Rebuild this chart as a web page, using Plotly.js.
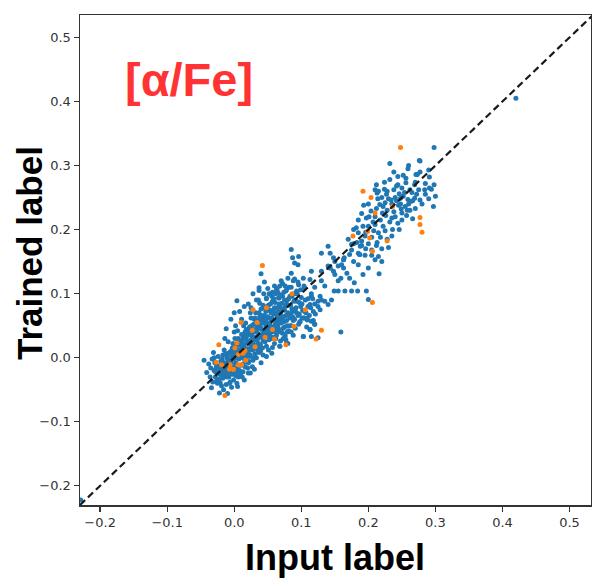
<!DOCTYPE html>
<html>
<head>
<meta charset="utf-8">
<script src="https://cdn.plot.ly/plotly-3.0.1.min.js"></script>
<style>html,body{margin:0;padding:0;background:#fff;}#chart{width:592px;height:586px;}</style>
</head>
<body>
<div id="chart"></div>
<script>
// Main (low-abundance) cluster, blue
const coreX = [
-0.045,-0.041,-0.034,-0.031,-0.030,-0.028,-0.026,-0.025,-0.024,-0.022,
-0.021,-0.020,-0.018,-0.017,-0.016,-0.015,-0.014,-0.013,-0.012,-0.011,
-0.010,-0.009,-0.008,-0.007,-0.006,-0.005,-0.004,-0.003,-0.002,-0.001,
0.000,0.000,0.001,0.002,0.003,0.004,0.005,0.005,0.006,0.007,
0.008,0.009,0.010,0.011,0.012,0.013,0.014,0.015,0.016,0.017,
0.018,0.019,0.020,0.021,0.022,0.023,0.024,0.025,0.026,0.027,
0.028,0.029,0.030,0.031,0.032,0.033,0.034,0.035,0.036,0.037,
0.038,0.039,0.040,0.041,0.042,0.043,0.044,0.045,0.046,0.047,
0.048,0.049,0.050,0.051,0.052,0.053,0.054,0.055,0.056,0.057,
0.058,0.059,0.060,0.061,0.062,0.063,0.064,0.065,0.066,0.067,
0.068,0.069,0.070,0.071,0.072,0.073,0.074,0.075,0.076,0.077,
0.078,0.079,0.080,0.081,0.082,0.083,0.084,0.085,0.086,0.087,
0.088,0.089,0.090,0.092,0.094,0.095,0.097,0.098,0.100,0.102,
0.104,0.106,0.108,0.110,0.112,0.115,0.118,0.120,0.103,0.115,
-0.038,-0.036,-0.033,-0.032,-0.029,-0.027,-0.023,-0.019,-0.017,-0.015,
-0.012,-0.010,-0.008,-0.006,-0.004,-0.002,0.001,0.003,0.004,0.006,
0.008,0.009,0.011,0.012,0.014,0.015,0.016,0.018,0.019,0.020,
0.022,0.023,0.024,0.026,0.027,0.028,0.030,0.031,0.032,0.034,
0.035,0.036,0.038,0.039,0.040,0.042,0.043,0.044,0.046,0.047,
0.048,0.049,0.051,0.052,0.053,0.055,0.056,0.057,0.058,0.060,
0.061,0.062,0.064,0.065,0.066,0.068,0.069,0.070,0.072,0.073,
0.075,0.076,0.078,0.079,0.080,0.082,0.083,0.085,0.086,0.088,
0.090,0.091,0.093,0.096,0.099,0.101,0.105,0.109,0.113,0.120,
-0.028,-0.024,-0.020,-0.018,-0.014,-0.011,-0.009,-0.007,-0.005,-0.003,
-0.001,0.001,0.002,0.004,0.006,0.007,0.009,0.010,0.012,0.013,
0.014,0.016,0.017,0.019,0.021,0.022,0.024,0.025,0.027,0.029,
0.030,0.032,0.033,0.035,0.037,0.038,0.040,0.041,0.043,0.045,
0.046,0.048,0.050,0.051,0.053,0.054,0.056,0.057,0.059,0.060,
0.062,0.063,0.066,0.067,0.070,0.071,0.074,0.077,0.080,0.084,
0.085,0.096,0.087,0.090,0.085,0.090,0.040,0.037,0.037,0.004,
0.021,0.033,0.048,0.057,0.068,0.076,0.078,0.063,0.066,0.093,
0.096,0.095,0.103,0.113,0.115,0.105,0.115,0.113,0.118,0.104,
0.109,0.115,0.120,0.113,0.103,0.159,0.125,0.098,0.008,0.015,
-0.005,-0.012,0.000,0.025,0.060,0.070,0.080,0.050,0.028,0.045,
0.021,0.030,0.040,0.015,0.048,0.068,0.078,-0.010,-0.022,0.005,
-0.035,-0.030,-0.026,-0.022,-0.019,-0.016,-0.013,-0.010,-0.007,-0.004,
-0.002,0.000,0.003,0.005,0.007,0.009,0.011,0.013,0.015,0.017,
0.019,0.021,0.023,0.025,0.027,0.029,0.031,0.033,0.035,0.037,
0.039,0.041,0.043,0.045,0.047,0.049,0.051,0.053,0.055,0.057,
0.059,0.061,0.063,0.065,0.067,0.069,0.071,0.073,0.075,0.077,
0.079,0.081,0.083,0.085,0.087,0.089,0.091,0.093,0.095,0.097,
0.099,0.101,0.104,0.107,0.110,0.114,0.117,0.121,0.125,0.130,
0.011,0.024,0.036,0.052,0.064,-0.014,0.002,0.044,0.072,0.088
];
const coreY = [
-0.004,-0.023,-0.047,0.008,-0.020,-0.030,-0.012,-0.040,0.002,-0.025,
-0.039,-0.005,-0.018,-0.032,-0.050,0.012,-0.008,-0.027,-0.042,0.000,
-0.015,0.025,-0.030,0.008,-0.022,-0.004,-0.046,0.015,-0.012,-0.035,
0.004,-0.025,0.030,-0.008,0.018,-0.018,0.042,0.008,-0.030,-0.002,
0.026,0.012,-0.012,0.036,0.002,-0.022,0.050,0.020,0.006,-0.006,
0.032,0.014,-0.016,0.045,0.024,0.002,-0.024,0.062,0.035,0.012,
-0.004,0.052,0.028,0.018,0.070,0.000,0.040,0.058,0.022,0.008,
0.085,0.048,0.032,0.066,0.015,0.056,0.040,0.078,0.025,0.050,
0.092,0.034,0.064,0.012,0.045,0.074,0.030,0.058,0.007,0.088,
0.042,0.068,0.022,0.052,0.100,0.035,0.078,0.060,0.045,0.093,
0.018,0.070,0.054,0.085,0.038,0.064,0.102,0.048,0.080,0.028,
0.058,0.090,0.070,0.042,0.110,0.062,0.082,0.050,0.096,0.072,
0.035,0.088,0.060,0.078,0.100,0.066,0.086,0.056,0.094,0.074,
0.062,0.090,0.048,0.080,0.066,0.100,0.058,0.084,0.033,0.033,
-0.010,-0.030,-0.002,-0.038,-0.008,-0.016,-0.034,-0.010,0.004,-0.025,
-0.020,0.006,-0.008,-0.038,0.002,0.022,-0.016,0.010,-0.040,0.020,
-0.020,0.000,0.018,-0.030,0.008,0.034,-0.014,0.044,0.004,0.024,
-0.006,0.036,0.014,0.050,-0.014,0.022,0.040,0.006,0.054,0.028,
0.012,0.046,0.064,0.020,0.076,0.036,0.004,0.062,0.044,0.072,
0.018,0.054,0.082,0.028,0.062,0.040,0.096,0.016,0.074,0.048,
0.086,0.030,0.064,0.102,0.040,0.080,0.026,0.064,0.096,0.046,
0.074,0.034,0.084,0.050,0.022,0.066,0.096,0.040,0.076,0.058,
0.090,0.046,0.070,0.052,0.080,0.062,0.072,0.062,0.044,0.052,
-0.022,-0.018,-0.028,-0.002,-0.016,-0.030,-0.004,-0.018,0.010,-0.026,
-0.002,0.014,-0.028,0.000,0.030,-0.012,0.020,0.004,0.026,-0.010,
0.016,0.040,0.000,0.026,0.010,0.038,0.004,0.028,0.044,0.014,
0.060,0.032,0.020,0.050,0.036,0.016,0.058,0.044,0.026,0.066,
0.054,0.040,0.074,0.050,0.036,0.084,0.062,0.048,0.030,0.078,
0.058,0.044,0.072,0.054,0.040,0.076,0.056,0.066,0.082,0.068,
0.169,0.158,0.156,0.148,0.132,0.123,0.131,0.109,0.105,0.089,
0.084,0.090,0.093,0.102,0.112,0.112,0.106,0.106,0.093,0.104,
0.114,0.145,0.124,0.122,0.135,0.109,0.096,0.083,0.072,0.062,
0.059,0.057,0.052,0.044,0.033,0.040,0.031,0.056,0.072,0.080,
0.060,0.045,0.070,0.078,0.112,0.120,0.124,0.108,0.100,0.118,
-0.024,-0.018,-0.008,-0.035,0.002,0.018,0.023,-0.056,-0.055,-0.045,
-0.016,0.000,-0.036,-0.014,-0.044,-0.022,0.006,-0.024,-0.040,-0.010,
0.008,0.040,-0.022,0.024,0.012,-0.026,0.006,0.030,-0.002,0.054,
0.036,-0.008,0.048,0.018,0.030,0.000,0.062,0.046,0.030,0.070,
0.010,0.054,0.082,0.034,0.060,0.080,0.036,0.052,0.070,0.032,
0.092,0.040,0.070,0.050,0.084,0.098,0.058,0.030,0.090,0.104,
0.040,0.092,0.050,0.110,0.064,0.100,0.076,0.088,0.118,0.068,
0.106,0.084,0.112,0.070,0.092,0.078,0.092,0.068,0.080,0.090,
0.060,0.070,0.090,0.100,0.108,0.030,0.050,0.100,0.116,0.120
];
// Sparse bridge between clusters, blue
const bridgeX = [
0.140,0.130,0.143,0.148,0.175,0.164,0.172,0.185,0.188,0.190,
0.196,0.205,0.210,0.215,0.220,0.130,0.140,0.148,0.155,0.163,
0.168,0.150,0.159,0.172,0.179,0.175,0.184,0.197,0.200,0.165,
0.155,0.149,0.128,0.125,0.135,0.140,0.128,0.120,0.135,0.143,
0.163,0.187,0.216,0.155,0.145,0.130,0.200,0.185,0.178,0.192
];
const bridgeY = [
0.174,0.163,0.163,0.156,0.177,0.156,0.161,0.163,0.174,0.182,
0.170,0.160,0.153,0.158,0.150,0.135,0.143,0.135,0.143,0.140,
0.132,0.130,0.124,0.124,0.117,0.104,0.104,0.104,0.091,0.104,
0.104,0.104,0.096,0.088,0.088,0.083,0.075,0.110,0.112,0.140,
0.153,0.161,0.131,0.120,0.090,0.120,0.140,0.145,0.150,0.130
];
// Upper (alpha-rich) cluster, blue
const upperX = [
0.298,0.232,0.277,0.290,0.259,0.244,0.232,0.273,0.269,0.294,
0.297,0.210,0.224,0.213,0.227,0.254,0.248,0.259,0.269,0.277,
0.217,0.212,0.225,0.235,0.245,0.255,0.262,0.270,0.280,0.240,
0.204,0.228,0.238,0.250,0.257,0.266,0.197,0.210,0.218,0.232,
0.244,0.236,0.192,0.200,0.208,0.215,0.225,0.235,0.178,0.185,
0.195,0.205,0.218,0.228,0.182,0.187,0.163,0.170,0.178,0.190,
0.200,0.212,0.220,0.230,0.175,0.195,0.205,0.143,0.150,0.160,
0.256,0.244,0.212,0.215,0.271,0.291,0.300,0.276,0.262,0.285,
0.250,0.238,0.265,0.275,0.285,0.230,0.220,0.248,0.260,0.290,
0.266,0.272,0.242,0.252,0.226,0.240,0.250,0.222,0.246,0.213,
0.200,0.207,0.214,0.221,0.228,0.235,0.242,0.249,0.256,0.263,
0.270,0.277,0.284,0.291,0.298,0.260,0.252,0.238,0.224,0.190,
0.185,0.193,0.201,0.183,0.196,0.210,0.222,0.234,0.246,0.258
];
const upperY = [
0.328,0.303,0.307,0.293,0.295,0.283,0.278,0.286,0.270,0.263,
0.236,0.262,0.263,0.257,0.255,0.258,0.249,0.247,0.249,0.246,
0.239,0.233,0.242,0.240,0.238,0.236,0.230,0.233,0.240,0.250,
0.229,0.230,0.228,0.226,0.222,0.217,0.218,0.220,0.215,0.212,
0.210,0.200,0.205,0.205,0.198,0.195,0.198,0.190,0.200,0.195,
0.190,0.188,0.188,0.185,0.203,0.161,0.153,0.185,0.178,0.175,
0.178,0.175,0.170,0.172,0.168,0.160,0.168,0.140,0.150,0.145,
0.273,0.270,0.270,0.260,0.286,0.265,0.252,0.308,0.262,0.255,
0.265,0.262,0.258,0.262,0.272,0.248,0.250,0.240,0.240,0.248,
0.245,0.255,0.245,0.252,0.222,0.220,0.215,0.205,0.200,0.180,
0.240,0.212,0.248,0.226,0.260,0.218,0.268,0.232,0.280,0.244,
0.274,0.290,0.262,0.282,0.270,0.300,0.285,0.290,0.274,0.225,
0.215,0.238,0.220,0.180,0.196,0.208,0.236,0.246,0.256,0.230
];
// Isolated blue points
const outlierX = [0.420, -0.229];
const outlierY = [0.405, -0.222];
// Second (orange) sample
const orangeX = [
0.248,0.192,0.204,0.210,0.236,0.277,0.277,0.280,0.177,0.202,
0.228,0.206,0.206,0.086,0.106,0.089,0.130,0.122,0.042,0.077,
0.028,0.048,0.010,0.034,0.027,0.057,0.046,-0.023,0.004,0.001,
0.006,0.031,0.060,0.013,-0.027,-0.019,-0.006,0.006,0.011,-0.007,
-0.001,0.017,-0.014,0.199,0.016
];
const orangeY = [
0.328,0.260,0.250,0.226,0.236,0.219,0.208,0.196,0.190,0.187,
0.182,0.166,0.086,0.100,0.075,0.049,0.043,0.029,0.144,0.020,
0.075,0.078,0.055,0.055,0.043,0.044,0.032,0.020,0.023,0.015,
0.005,0.017,0.029,0.007,-0.007,-0.011,-0.011,-0.011,-0.011,-0.018,
-0.018,-0.004,-0.059,0.197,0.011
];
// One-to-one reference line
const lineX = [-0.23, 0.535];
const lineY = [-0.23, 0.535];
// Ticks and labels
const tickVals = [-0.2, -0.1, 0.0, 0.1, 0.2, 0.3, 0.4, 0.5];
const tickText = ['\u22120.2', '\u22120.1', '0.0', '0.1', '0.2', '0.3', '0.4', '0.5'];
const panelLabel = '[\u03b1/Fe]';
const xTitle = 'Input label';
const yTitle = 'Trained label';

const blueX = coreX.concat(bridgeX, upperX, outlierX);
const blueY = coreY.concat(bridgeY, upperY, outlierY);

const traces = [
  {x: blueX, y: blueY, type: 'scatter', mode: 'markers',
   marker: {color: '#1f77b4', size: 5}, hoverinfo: 'skip'},
  {x: orangeX, y: orangeY, type: 'scatter', mode: 'markers',
   marker: {color: '#ff7f0e', size: 5}, hoverinfo: 'skip'},
  {x: lineX, y: lineY, type: 'scatter', mode: 'lines',
   line: {color: '#1a1a1a', width: 2.2, dash: '7px,4px'}, hoverinfo: 'skip'}
];

const axisCommon = {
  tickvals: tickVals, ticktext: tickText,
  ticks: 'outside', ticklen: 5, tickwidth: 1.3, tickcolor: '#333',
  showline: true, linecolor: '#333', linewidth: 1.5, mirror: true,
  showgrid: false, zeroline: false,
  tickfont: {family: 'DejaVu Sans', size: 13, color: '#333'}
};

const layout = {
  width: 592, height: 586,
  margin: {l: 80, r: 1, t: 15, b: 81},
  paper_bgcolor: '#ffffff', plot_bgcolor: '#ffffff',
  showlegend: false,
  xaxis: Object.assign({range: [-0.23, 0.532]}, axisCommon),
  yaxis: Object.assign({range: [-0.23, 0.535]}, axisCommon),
  annotations: [
    {text: '<b>' + panelLabel + '</b>', xref: 'paper', yref: 'paper',
     x: 0.213, y: 0.869, xanchor: 'center', yanchor: 'middle', showarrow: false,
     font: {family: 'Liberation Sans, Arial, sans-serif', size: 47, color: '#ff3333'}},
    {text: '<b>' + xTitle + '</b>', xref: 'paper', yref: 'paper',
     x: 0.499, y: -0.108, xanchor: 'center', yanchor: 'middle', showarrow: false,
     font: {family: 'Liberation Sans, Arial, sans-serif', size: 36, color: '#000'}},
    {text: '<b>' + yTitle + '</b>', xref: 'paper', yref: 'paper', textangle: -90,
     x: -0.1, y: 0.514, xanchor: 'center', yanchor: 'middle', showarrow: false,
     font: {family: 'Liberation Sans, Arial, sans-serif', size: 35, color: '#000'}}
  ]
};

Plotly.newPlot('chart', traces, layout, {staticPlot: true, displayModeBar: false});
</script>
</body>
</html>
